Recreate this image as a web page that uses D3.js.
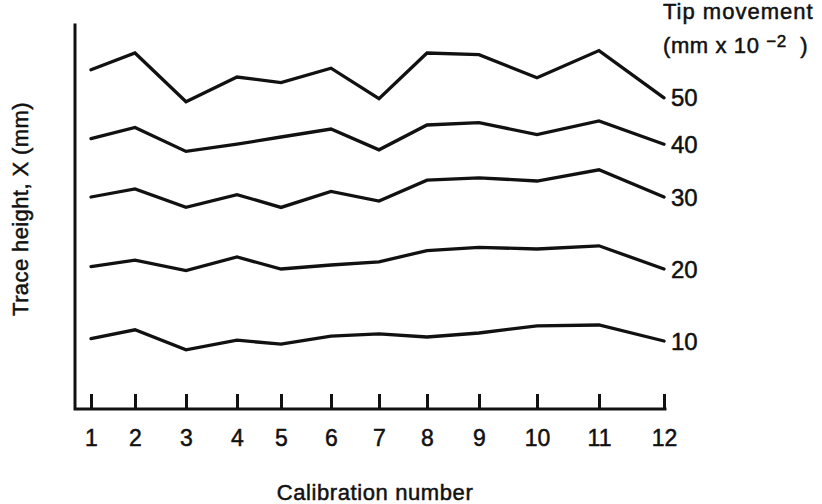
<!DOCTYPE html>
<html>
<head>
<meta charset="utf-8">
<script src="https://cdn.jsdelivr.net/npm/d3@7"></script>
<style>
  html, body { margin: 0; padding: 0; background: #fff; }
  svg { display: block; font-family: "Liberation Sans", Arial, Helvetica, sans-serif; }
  text { fill: #111; stroke: #111; stroke-width: 0.5px; }
</style>
</head>
<body>
<svg id="chart" width="822" height="504"></svg>
<script>
// Calibration runs along the x axis
const calibration = [1, 2, 3, 4, 5, 6, 7, 8, 9, 10, 11, 12];

// Tip movement of each trace (mm x 10^-2)
const tipMovements = [50, 40, 30, 20, 10];

// Trace height X (mm) per calibration, one array per tip movement
const trace50 = [42.4, 44.5, 38.4, 41.5, 40.8, 42.6, 38.8, 44.5, 44.3, 41.4, 44.8, 38.9];
const trace40 = [33.8, 35.2, 32.2, 33.1, 34.0, 35.0, 32.4, 35.5, 35.8, 34.3, 36.0, 33.1];
const trace30 = [26.5, 27.5, 25.2, 26.8, 25.2, 27.2, 26.0, 28.6, 28.9, 28.5, 29.9, 26.5];
const trace20 = [17.8, 18.6, 17.3, 19.0, 17.5, 18.0, 18.4, 19.8, 20.2, 20.0, 20.4, 17.5];
const trace10 = [8.8, 9.9, 7.4, 8.6, 8.1, 9.1, 9.4, 9.0, 9.5, 10.4, 10.5, 8.5];

const tickLabels = ["1", "2", "3", "4", "5", "6", "7", "8", "9", "10", "11", "12"];

const traces = [trace50, trace40, trace30, trace20, trace10];

// ---- layout ----
const svg = d3.select("#chart");
const axisX = 75, axisTop = 25, axisBottom = 409, axisRight = 665;
// hand-ruled tick stations along the calibration axis (uneven spacing)
const xStations = [91, 135, 186, 237, 281, 331, 379, 427, 479, 537, 599, 664];

const x = d3.scaleLinear().domain(calibration).range(xStations);
const y = d3.scaleLinear().domain([0, 48]).range([axisBottom, axisTop]);

// axis frame
svg.append("path")
  .attr("d", `M${axisX},${axisTop}V${axisBottom}H${axisRight}`)
  .attr("fill", "none")
  .attr("stroke", "#111")
  .attr("stroke-width", 3)
  .attr("stroke-linecap", "square");

// x axis with inward ticks
const xAxis = d3.axisBottom(x)
  .tickValues(calibration)
  .tickFormat((d, i) => tickLabels[i])
  .tickSizeInner(-15)
  .tickSizeOuter(0)
  .tickPadding(21);

const gx = svg.append("g")
  .attr("transform", `translate(0,${axisBottom})`)
  .call(xAxis);
gx.select(".domain").remove();
gx.selectAll(".tick line").attr("stroke", "#111").attr("stroke-width", 3);
gx.selectAll(".tick text")
  .attr("font-size", 23)
  .attr("font-family", "Liberation Sans, Arial, sans-serif")
  .attr("fill", "#111");

// traces
const line = d3.line()
  .x((d, i) => x(calibration[i]))
  .y(d => y(d));

svg.append("g")
  .selectAll("path")
  .data(traces)
  .join("path")
  .attr("d", line)
  .attr("fill", "none")
  .attr("stroke", "#111")
  .attr("stroke-width", 3.3)
  .attr("stroke-linejoin", "miter")
  .attr("stroke-linecap", "round");

// end labels: tip movement
svg.append("g")
  .selectAll("text")
  .data(traces)
  .join("text")
  .attr("x", x(calibration[calibration.length - 1]) + 7)
  .attr("y", d => y(d[d.length - 1]))
  .attr("dy", "0.36em")
  .attr("font-size", 24)
  .text((d, i) => tipMovements[i]);

// legend heading for the end labels
svg.append("text")
  .attr("x", 663).attr("y", 19)
  .attr("font-size", 22)
  .attr("letter-spacing", 1)
  .text("Tip movement");

const unit = svg.append("text")
  .attr("x", 663).attr("y", 53)
  .attr("font-size", 22)
  .attr("letter-spacing", 0.6);
unit.append("tspan").text("(mm x 10 ");
unit.append("tspan").attr("font-size", 17).attr("dy", -6).text("\u22122");
unit.append("tspan").attr("dy", 6).attr("xml:space", "preserve").text("  )");

// axis titles
svg.append("text")
  .attr("x", 375).attr("y", 500)
  .attr("text-anchor", "middle")
  .attr("font-size", 22)
  .attr("letter-spacing", 0.6)
  .text("Calibration number");

svg.append("text")
  .attr("transform", "translate(28,209) rotate(-90)")
  .attr("text-anchor", "middle")
  .attr("font-size", 22)
  .attr("letter-spacing", 0.4)
  .text("Trace height, X (mm)");
</script>
</body>
</html>
